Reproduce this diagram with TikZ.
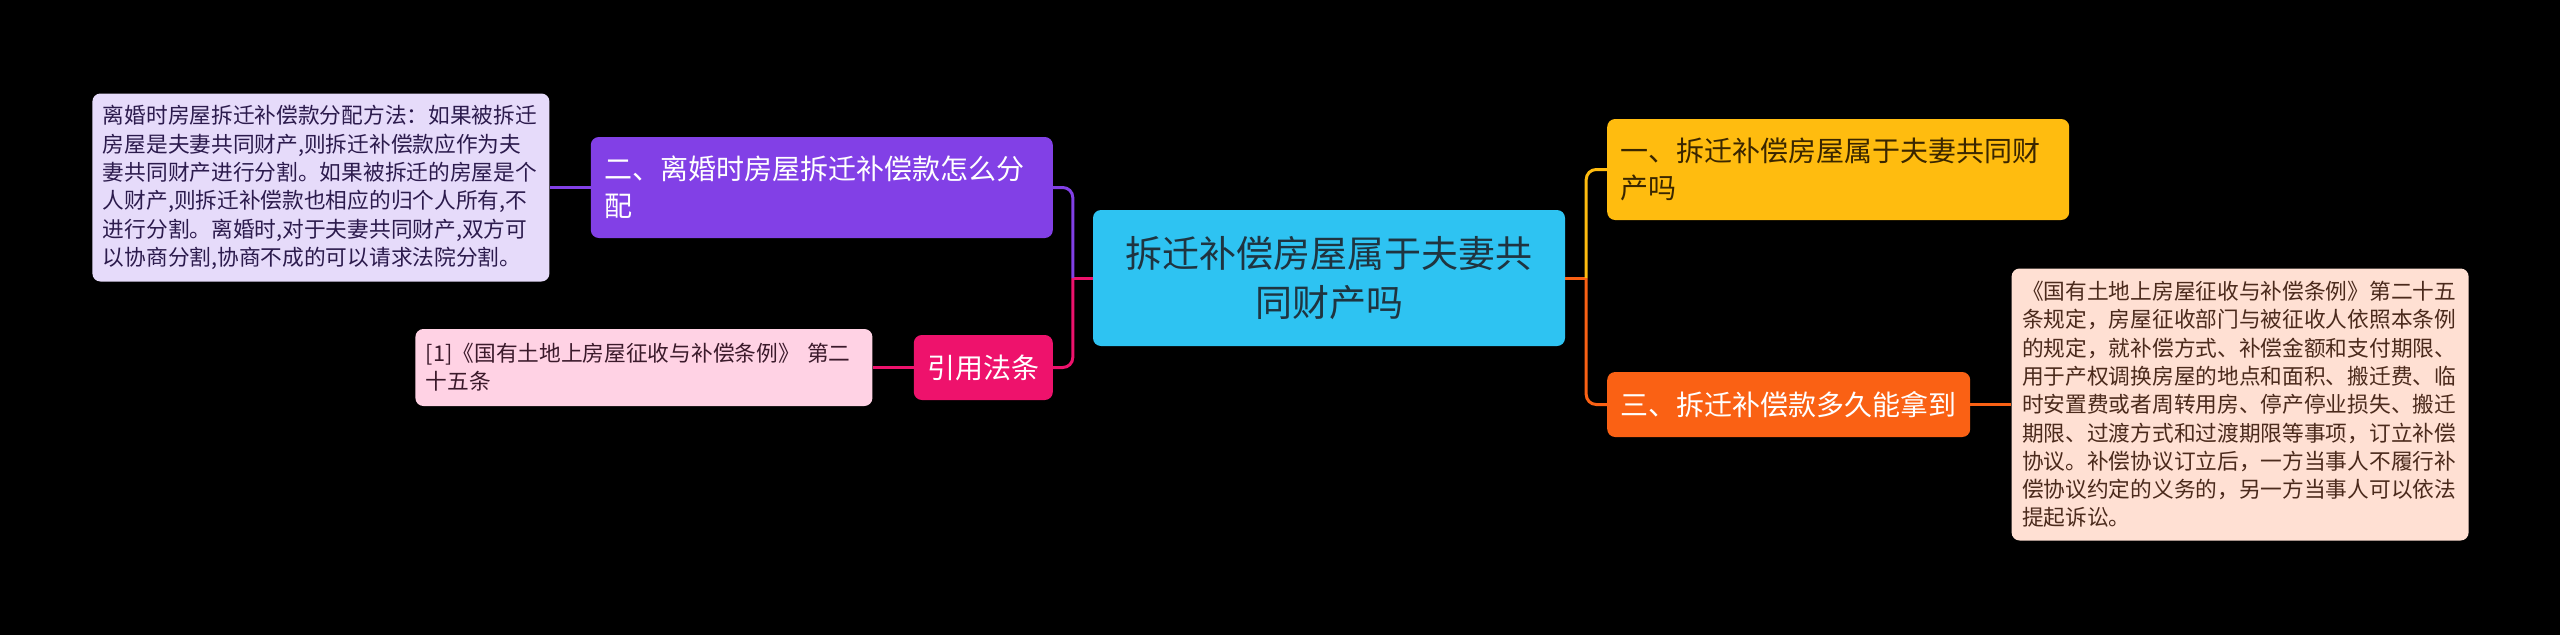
\documentclass[tikz,border=0pt]{standalone}
\usepackage{fontspec}
\setmainfont{Noto Sans CJK SC}
\usetikzlibrary{positioning}

\definecolor{rootfill}{HTML}{2EC3F2}
\definecolor{roottext}{HTML}{1F3440}
\definecolor{purplefill}{HTML}{8240E6}
\definecolor{lavfill}{HTML}{E6DBFA}
\definecolor{lavtext}{HTML}{2C1B4D}
\definecolor{citefill}{HTML}{EE126C}
\definecolor{pinkleaf}{HTML}{FFD2E4}
\definecolor{pinktext}{HTML}{3B1A2B}
\definecolor{yellowfill}{HTML}{FFBC0F}
\definecolor{yellowtext}{HTML}{3A2600}
\definecolor{orangefill}{HTML}{FA6114}
\definecolor{peachfill}{HTML}{FFE0D3}
\definecolor{peachtext}{HTML}{4B2A1C}

\begin{document}
\begin{tikzpicture}[
    x=1pt, y=-1pt,
    % Node styles
    box/.style={
        rounded corners=8pt, inner ysep=0pt, align=left
    },
    rootbox/.style={
        box, fill=rootfill, text=roottext, align=center,
        minimum width=472pt, minimum height=136pt,
        font=\fontsize{37}{49}\selectfont
    },
    branch/.style={
        box, inner xsep=13.5pt, minimum height=101pt,
        font=\fontsize{28}{37}\selectfont
    },
    leaf/.style={
        box, text width=436pt, inner xsep=10.5pt,
        font=\fontsize{21.7}{28.3}\selectfont
    },
    % Edge style
    conn/.style={line width=3pt},
]

% Background and page size
\fill[black] (0,0) rectangle (2560,635);
\useasboundingbox (0,0) rectangle (2560,635);

% ===== CENTRE =====
\node[rootbox] (root) at (1329,278) {拆迁补偿房屋属于夫妻共\\同财产吗};

% ===== LEFT SIDE =====

% Branch: how the money is split on divorce
\node[branch, fill=purplefill, text=white, text width=435pt, anchor=east] (two) at (1053,187.5)
    {二、离婚时房屋拆迁补偿款怎么分\\配};
\node[leaf, fill=lavfill, text=lavtext, minimum height=188pt, left=41pt of two] (two-leaf)
    {离婚时房屋拆迁补偿款分配方法：如果被拆迁\\
     房屋是夫妻共同财产,则拆迁补偿款应作为夫\\
     妻共同财产进行分割。如果被拆迁的房屋是个\\
     人财产,则拆迁补偿款也相应的归个人所有,不\\
     进行分割。离婚时,对于夫妻共同财产,双方可\\
     以协商分割,协商不成的可以请求法院分割。};

% Branch: cited law
\node[branch, fill=citefill, text=white, minimum height=65pt, anchor=east] (cite) at (1053,367.5) {引用法条};
\node[leaf, fill=pinkleaf, text=pinktext, minimum height=77pt, left=41pt of cite] (cite-leaf)
    {[1]《国有土地上房屋征收与补偿条例》 第二\\十五条};

% Edges on the left
\draw[conn, citefill] (root.west) -- ++(-20pt,0) coordinate (lj);
\draw[conn, purplefill, rounded corners=10pt] (lj) |- (two.east);
\draw[conn, citefill, rounded corners=10pt] (lj) |- (cite.east);
\draw[conn, purplefill] (two.west) -- (two-leaf.east);
\draw[conn, citefill] (cite.west) -- (cite-leaf.east);

% ===== RIGHT SIDE =====

% Branch: is it joint property
\node[branch, fill=yellowfill, text=yellowtext, text width=435pt, anchor=west] (one) at (1607,169.5)
    {一、拆迁补偿房屋属于夫妻共同财\\产吗};

% Branch: when is the money paid
\node[branch, fill=orangefill, text=white, minimum height=65pt, anchor=west] (three) at (1607,404.5)
    {三、拆迁补偿款多久能拿到};
\node[leaf, fill=peachfill, text=peachtext, minimum height=272pt, right=41pt of three] (three-leaf)
    {《国有土地上房屋征收与补偿条例》第二十五\\
     条规定，房屋征收部门与被征收人依照本条例\\
     的规定，就补偿方式、补偿金额和支付期限、\\
     用于产权调换房屋的地点和面积、搬迁费、临\\
     时安置费或者周转用房、停产停业损失、搬迁\\
     期限、过渡方式和过渡期限等事项，订立补偿\\
     协议。补偿协议订立后，一方当事人不履行补\\
     偿协议约定的义务的，另一方当事人可以依法\\
     提起诉讼。};

% Edges on the right
\draw[conn, orangefill] (root.east) -- ++(21pt,0) coordinate (rj);
\draw[conn, yellowfill, rounded corners=10pt] (rj) |- (one.west);
\draw[conn, orangefill, rounded corners=10pt] (rj) |- (three.west);
\draw[conn, orangefill] (three.east) -- (three-leaf.west);

\end{tikzpicture}
\end{document}
